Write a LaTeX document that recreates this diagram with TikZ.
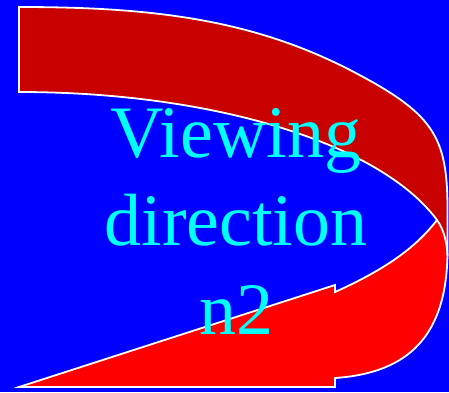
\documentclass[tikz,border=0pt]{standalone}
\usepackage{fontspec}
\setmainfont{Liberation Serif}
\usepackage{tikz}
\definecolor{bgBlue}{RGB}{0,0,255}
\definecolor{bandDark}{RGB}{200,0,0}
\definecolor{bandLite}{RGB}{255,0,0}
\definecolor{textCyan}{RGB}{0,255,255}

\begin{document}
\begin{tikzpicture}[
    x=1pt, y=-1pt,
    darkband/.style={fill=bandDark},
    liteband/.style={fill=bandLite},
    rim/.style={draw=white, line width=1.8pt, line join=miter},
    caption/.style={text=textCyan, align=center, inner sep=0pt,
                    font=\fontsize{74}{88.5}\selectfont},
  ]
    \fill[bgBlue] (0,0) rectangle (449,392);
    \useasboundingbox (0,0) rectangle (449,392);
    \coordinate (tl) at (19,7);
    \coordinate (il) at (19,92);
    \coordinate (join) at (437,220);
    \coordinate (rim1) at (447.5,210);
    \coordinate (rim2) at (447.5,250);
    \coordinate (hb) at (335,378);
    \coordinate (hbb) at (335,387);
    \coordinate (tip) at (19,387);
    \coordinate (ht) at (335,285);
    \coordinate (htt) at (335,292);
    % upper band
    \path[darkband] (tl) .. controls (149,7) and (250,18.5) .. (350,70)
      .. controls (434,113.5) and (447.5,136) .. (rim1) -- (447.5,256)
      .. controls (447,243) and (444,229.5) .. (join)
      .. controls (380.1,143.2) and (212.8,92) .. (il) -- cycle;
    % lower band and head
    \path[liteband] (join) -- (447.5,238) -- (rim2)
      .. controls (447.5,336) and (408.5,372.9) .. (hb)
      -- (hbb) -- (tip) -- (ht) -- (htt)
      .. controls (384.9,269.5) and (415.5,248) .. (join) -- cycle;
    % white outline
    \draw[rim] (tl) .. controls (149,7) and (250,18.5) .. (350,70)
      .. controls (434,113.5) and (447.5,136) .. (rim1) -- (rim2)
      .. controls (447.5,336) and (408.5,372.9) .. (hb)
      -- (hbb) -- (tip) -- (ht) -- (htt)
      .. controls (384.9,269.5) and (415.5,248) .. (join)
      .. controls (380.1,143.2) and (212.8,92) .. (il) -- cycle;
    \draw[rim] (join) .. controls (444,229.5) and (447,243) .. (447.5,256);
    \node[caption] (lbl) at (236,221) {Viewing\\direction\\n2};
\end{tikzpicture}
\end{document}
